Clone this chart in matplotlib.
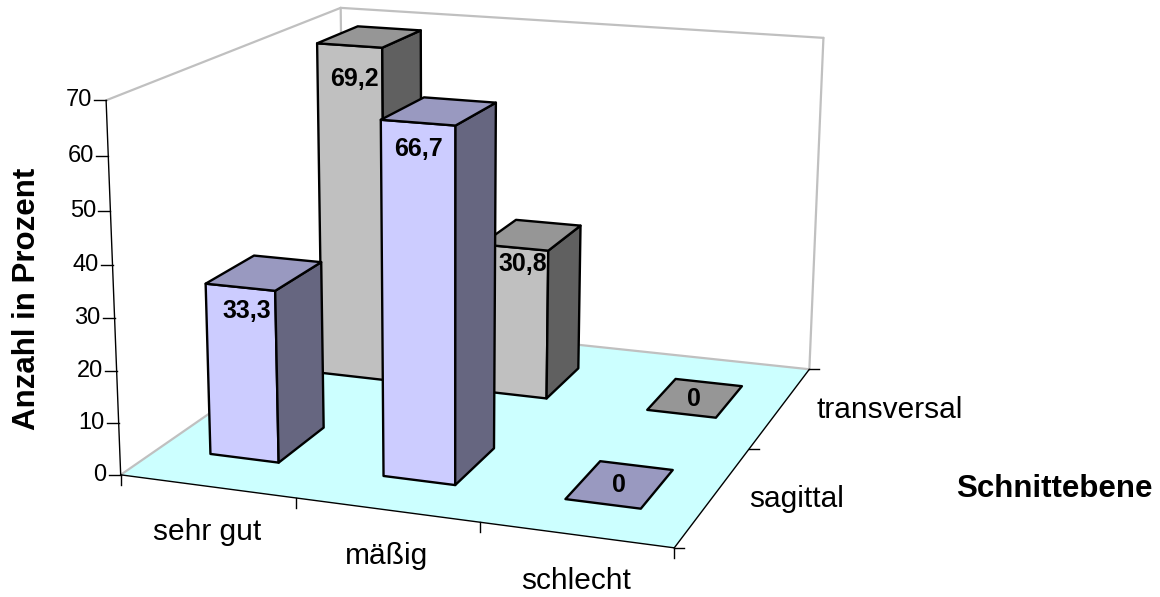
import numpy as np
import matplotlib
matplotlib.use("Agg")
import matplotlib.pyplot as plt
from matplotlib.patches import Polygon

plt.rcParams["font.family"] = ["Liberation Sans", "DejaVu Sans"]

categories = ["sehr gut", "mäßig", "schlecht"]
planes = ["sagittal", "transversal"]
sagittal = [33.3, 66.7, 0]
transversal = [69.2, 30.8, 0]
sagittal_labels = ["33,3", "66,7", "0"]
transversal_labels = ["69,2", "30,8", "0"]
z_ticks = [0, 10, 20, 30, 40, 50, 60, 70]
z_max = 70

# box corners (category, plane, percent) and where they land on the canvas
box = np.array([[0, 0, 0], [3, 0, 0], [3, 2, 0], [0, 2, 0],
                [0, 0, z_max], [0, 2, z_max], [3, 2, z_max]], float)
canvas = np.array([[122, 475], [674, 548], [810, 369], [343, 320],
                   [105, 100], [342, 8], [823, 38]], float)

# pixel shift of the value text from the top front edge of its bar
label_shift = {"33,3": (7, 24), "66,7": (1, 26), "69,2": (5, 33), "30,8": (8, 16),
               "0": (-1, 1)}


def fit_camera(world, image):
    rows = []
    for (x, y, z), (u, v) in zip(world, image):
        rows.append([x, y, z, 1, 0, 0, 0, 0, -u*x, -u*y, -u*z, -u])
        rows.append([0, 0, 0, 0, x, y, z, 1, -v*x, -v*y, -v*z, -v])
    return np.linalg.svd(np.array(rows))[2][-1].reshape(3, 4)


cam = fit_camera(box, canvas)


def project(x, y, z):
    p = cam @ np.array([x, y, z, 1.0])
    return p[0]/p[2], p[1]/p[2]


fig = plt.figure(figsize=(11.6, 5.97), dpi=100)
ax = fig.add_axes([0, 0, 1, 1])
ax.set_xlim(0, 1160)
ax.set_ylim(597, 0)
ax.axis("off")


def face(corners, color, z):
    pts = [project(*c) for c in corners]
    ax.add_patch(Polygon(pts, closed=True, fc=color, ec="black", lw=1.7,
                         joinstyle="round", zorder=z))


def seg(a, b, color="black", lw=1.0, z=2):
    pa, pb = project(*a), project(*b)
    ax.plot([pa[0], pb[0]], [pa[1], pb[1]], color=color, lw=lw, zorder=z,
            solid_capstyle="round")


# floor
floor = [project(0, 0, 0), project(3, 0, 0), project(3, 2, 0), project(0, 2, 0)]
ax.add_patch(Polygon(floor, closed=True, fc="#CCFFFF", ec="none", zorder=1))

# walls
wall = "#C0C0C0"
seg((0, 0, 0), (0, 2, 0), wall, 1.6)
seg((0, 2, 0), (3, 2, 0), wall, 1.6)
seg((3, 2, 0), (3, 2, z_max), wall, 1.6)
seg((3, 2, z_max), (0, 2, z_max), wall, 1.6)
seg((0, 2, z_max), (0, 2, 0), wall, 1.6)
seg((0, 2, z_max), (0, 0, z_max), wall, 1.6)

# axes and ticks
seg((0, 0, 0), (0, 0, z_max))
seg((0, 0, 0), (3, 0, 0))
seg((3, 0, 0), (3, 2, 0))

for t in z_ticks:
    u, v = project(0, 0, t)
    ax.plot([u-12, u], [v, v], color="black", lw=1.0, zorder=2)
    ax.text(u-14, v, str(t), ha="right", va="center", fontsize=17)

for i in range(4):
    u, v = project(i, 0, 0)
    ax.plot([u, u], [v, v+10], color="black", lw=1.0, zorder=2)

for i in range(3):
    u, v = project(3, i, 0)
    ax.plot([u, u+10], [v, v], color="black", lw=1.0, zorder=2)

for i, name in enumerate(categories):
    u, v = project(i+0.5, 0, 0)
    ax.text(u, v+46, name, ha="center", va="center", fontsize=21.5)

for i, name in enumerate(planes):
    u, v = project(3, i+0.5, 0)
    ax.text(u+36, v+3, name, ha="left", va="center", fontsize=21.5)

ax.text(1054, 489, "Schnittebene", ha="center", va="center", fontsize=22.5,
        fontweight="bold")
ax.text(27, 299, "Anzahl in Prozent", ha="center", va="center", rotation=90,
        fontsize=22.5, fontweight="bold")


# bars, back row first
gap_x = 0.30
gap_y = 0.30
rows = [(1, transversal, transversal_labels, "#C0C0C0", "#969696", "#606060"),
        (0, sagittal, sagittal_labels, "#CCCCFF", "#9999C0", "#666680")]
z = 3
for row, values, labels, front, top, side in rows:
    for i, val in enumerate(values):
        x0, x1 = i+gap_x, i+1-gap_x
        y0, y1 = row+gap_y, row+1-gap_y
        if val > 0:
            face([(x0, y0, 0), (x1, y0, 0), (x1, y0, val), (x0, y0, val)], front, z)
            face([(x1, y0, 0), (x1, y1, 0), (x1, y1, val), (x1, y0, val)], side, z)
            u, v = project((x0+x1)/2, y0, val)
        else:
            u, v = project((x0+x1)/2, (y0+y1)/2, 0)
        face([(x0, y0, val), (x1, y0, val), (x1, y1, val), (x0, y1, val)], top, z)
        du, dv = label_shift[labels[i]]
        ax.text(u+du, v+dv, labels[i], ha="center", va="center", fontsize=18,
                fontweight="bold", zorder=z+1)
        z += 2

fig.savefig("out.png", dpi=100)
